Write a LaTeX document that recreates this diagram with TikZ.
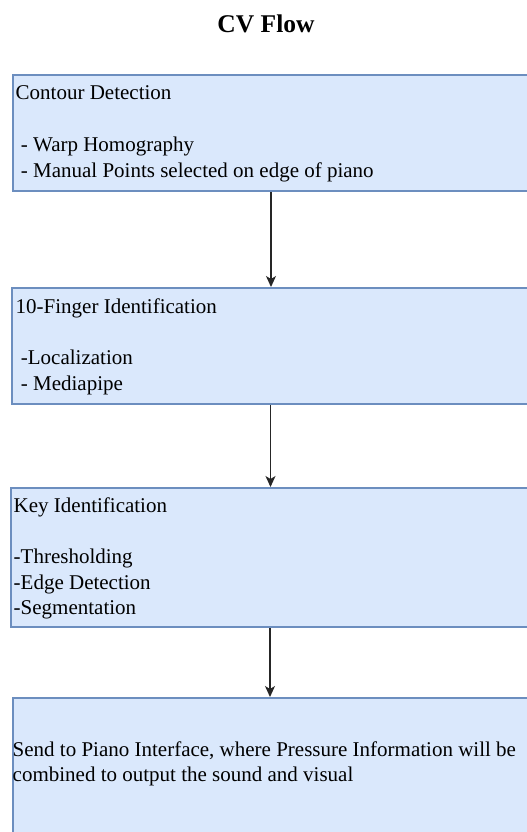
\documentclass[tikz,border=0pt]{standalone}
\usepackage{fontspec}
\setmainfont{Liberation Serif}
\usetikzlibrary{arrows.meta}
\definecolor{boxfill}{HTML}{DAE8FC}
\definecolor{boxline}{HTML}{6C8EBF}
\newcommand{\lead}{\hspace*{5.2pt}}
\begin{document}
\begin{tikzpicture}[x=1pt,y=-1pt,
  box/.style={draw=boxline, fill=boxfill, line width=2pt, rectangle, inner sep=0pt, anchor=north west},
  txt/.style={anchor=base west, inner sep=0pt, font=\rmfamily\fontsize{21}{25.7}\selectfont},
  arr/.style={-{Stealth[length=11pt,width=10pt,inset=3pt]}, line width=1.3pt, draw=black!85}]
\useasboundingbox (0,0) rectangle (527,832);
\clip (0,0) rectangle (527,832);
\fill[white] (0,0) rectangle (527,832);

\node[font=\rmfamily\bfseries\fontsize{25.5}{30}\selectfont, anchor=base, inner sep=0pt] (title) at (266,33) {CV Flow};

\node[box, minimum width=516pt, minimum height=116pt] (b1) at (12,74) {};
\node[box, minimum width=517pt, minimum height=116pt] (b2) at (11,287) {};
\node[box, minimum width=518pt, minimum height=139pt] (b3) at (10,487) {};
\node[box, minimum width=516pt, minimum height=146pt] (b4) at (12,697) {};

\node[txt] (t1) at (15.5,100) {\parbox[t]{500pt}{Contour Detection\\[25.7pt]\lead- Warp Homography\\\lead- Manual Points selected on edge of piano}};
\node[txt] (t2) at (15.5,313) {\parbox[t]{500pt}{10-Finger Identification\\[25.7pt]\lead-Localization\\\lead- Mediapipe}};
\node[txt] (t3) at (13.5,512) {\parbox[t]{500pt}{Key Identification\\[25.7pt]-Thresholding\\-Edge Detection\\-Segmentation}};
\node[txt] (t4) at (12.5,756) {\parbox[t]{515pt}{Send to Piano Interface, where Pressure Information will be\\combined to output the sound and visual}};

\draw[arr] (b1.south) -- (b1.south |- b2.north);
\draw[arr] (b2.south) -- (b2.south |- b3.north);
\draw[arr] (b3.south) -- (b3.south |- b4.north);
\end{tikzpicture}
\end{document}
